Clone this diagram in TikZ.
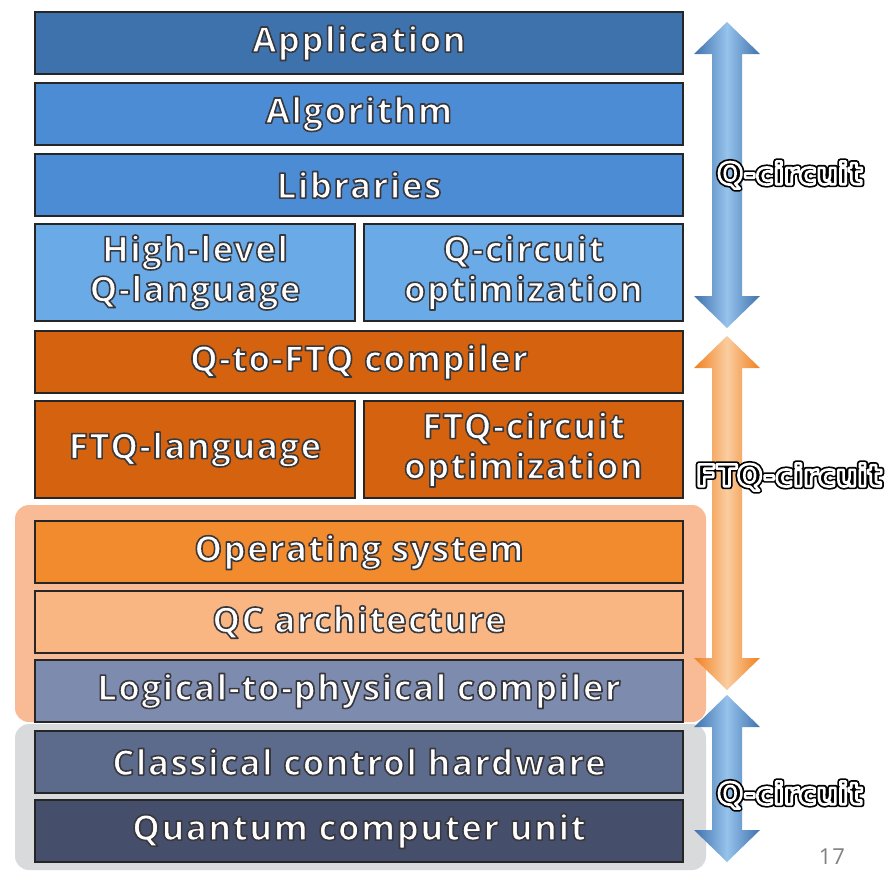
\documentclass[tikz,border=0pt]{standalone}
\usepackage{fontspec}
\setmainfont{Open Sans}[LetterSpace=4]
\newfontfamily\lblfont{DejaVu Sans}
\definecolor{appC}{RGB}{61,114,173}
\definecolor{algC}{RGB}{76,140,212}
\definecolor{hlC}{RGB}{106,170,230}
\definecolor{ftqC}{RGB}{212,98,14}
\definecolor{osC}{RGB}{242,138,46}
\definecolor{qcaC}{RGB}{249,182,131}
\definecolor{logC}{RGB}{125,139,174}
\definecolor{ccC}{RGB}{92,106,140}
\definecolor{quC}{RGB}{69,78,106}
\definecolor{opanel}{RGB}{248,187,149}
\definecolor{gpanel}{RGB}{217,218,220}
\definecolor{arB}{RGB}{63,114,173}
\definecolor{arBl}{RGB}{150,195,236}
\definecolor{arO}{RGB}{240,128,32}
\definecolor{arOl}{RGB}{250,205,160}
% outlined white text: fill then stroke (text render mode 2)
\newcommand\ct[1]{\special{pdf:literal direct 2 Tr 1.6 w 1 j 0.22 0.22 0.24 RG}#1\special{pdf:literal direct 0 Tr}}
% black letters with a white ring and a black outer ring
\newcommand\dbl[1]{\rlap{\special{pdf:literal direct 1 Tr 6 w 1 j 0 0 0 RG}#1\special{pdf:literal direct 0 Tr}}%
  \special{pdf:literal direct 2 Tr 2.6 w 1 j 1 1 1 RG}#1\special{pdf:literal direct 0 Tr}}
\newcommand\darrow[5]{% xc, ytop, ybot, dark, light
  \shade[left color=#4, right color=#4, middle color=#5]
    (#1,#2) -- (#1+33,#2+32) -- (#1+15,#2+32) -- (#1+15,#3-32) -- (#1+33,#3-32)
    -- (#1,#3) -- (#1-33,#3-32) -- (#1-15,#3-32) -- (#1-15,#2+32) -- (#1-33,#2+32) -- cycle;}
\begin{document}
\begin{tikzpicture}[x=1pt,y=-1pt,
  layer/.style={draw=black!85,line width=2pt,inner sep=0pt,anchor=north west,
    text=white,align=center,font=\bfseries\fontsize{35}{40}\selectfont},
  full/.style={layer,minimum width=648pt,minimum height=62pt},
  half/.style={layer,minimum width=320pt,minimum height=97pt},
  lbl/.style={text=black,font=\lblfont\bfseries\fontsize{30}{32}\selectfont}]
\useasboundingbox (0,0) rectangle (889,871);
\fill[white] (0,0) rectangle (889,871);
% panels
\fill[opanel,rounded corners=14pt] (15,505) rectangle (706,722);
\fill[gpanel,rounded corners=14pt] (15,724) rectangle (706,870);
% layers
\node[full,fill=appC] (app) at (34,11) {\ct{Application}};
\node[full,fill=algC] (alg) at (34,82) {\ct{Algorithm}};
\node[full,fill=algC] (lib) at (34,153) {\ct{Libraries}};
\node[half,fill=hlC] (hlq) at (34,223) {\ct{High-level}\\\ct{Q-language}};
\node[half,fill=hlC,minimum width=319pt] (qco) at (363,223) {\ct{Q-circuit}\\\ct{optimization}};
\node[full,fill=ftqC] (comp) at (34,330) {\ct{Q-to-FTQ compiler}};
\node[half,fill=ftqC] (ftql) at (34,400) {\ct{FTQ-language}};
\node[half,fill=ftqC,minimum width=319pt] (ftqo) at (363,400) {\ct{FTQ-circuit}\\\ct{optimization}};
\node[full,fill=osC] (os) at (34,520) {\ct{Operating system}};
\node[full,fill=qcaC] (qca) at (34,590) {\ct{QC architecture}};
\node[full,fill=logC] (l2p) at (34,659) {\ct{Logical-to-physical compiler}};
\node[full,fill=ccC] (cch) at (34,730) {\ct{Classical control hardware}};
\node[full,fill=quC] (qcu) at (34,799) {\ct{Quantum computer unit}};
% arrows
\darrow{727}{22}{328}{arB}{arBl}
\darrow{727}{336}{690}{arO}{arOl}
\darrow{727}{695}{862}{arB}{arBl}
% labels
\node[lbl] (l1) at (790,175) {\dbl{Q-circuit}};
\node[lbl] (l2) at (789,477) {\dbl{FTQ-circuit}};
\node[lbl] (l3) at (790,795) {\dbl{Q-circuit}};
\node[text=gray,font=\fontsize{22}{22}\selectfont,anchor=north,inner sep=0pt] (pg) at (832,849) {17};
\end{tikzpicture}
\end{document}
